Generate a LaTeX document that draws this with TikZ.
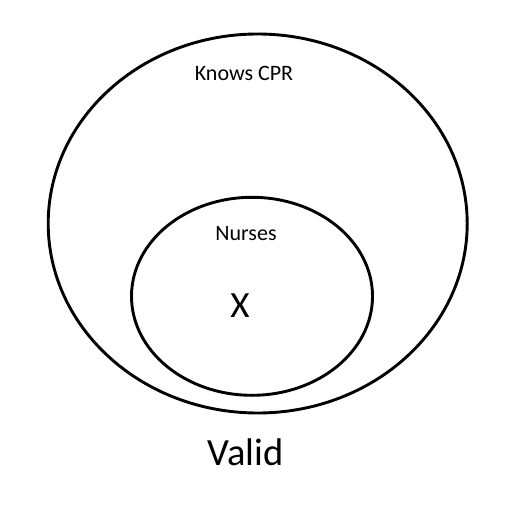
\documentclass[tikz,border=0pt]{standalone}
\usepackage{fontspec}
\setmainfont{Carlito}
\usepackage{tikz}
\usetikzlibrary{shapes.geometric,positioning}
\tikzset{
  setring/.style={ellipse, draw=black, line width=2.9pt, inner sep=0pt},
  setlbl/.style={anchor=base, inner sep=0pt, font=\fontsize{22}{25}\selectfont},
  bigmark/.style={anchor=base, inner sep=0pt, font=\fontsize{37}{40}\selectfont},
  verdict/.style={anchor=base, inner sep=0pt, font=\fontsize{38.5}{42}\selectfont}
}
\begin{document}
\begin{tikzpicture}[x=1pt, y=-1pt]
\useasboundingbox (0,0) rectangle (511,524);

% --- sets
\node[setring, minimum width=419pt, minimum height=379pt] (cpr) at (257.7,223.5) {};
\node[setring, minimum width=241pt, minimum height=198pt] (nurses) at (252,296.3) {};

% --- labels
\node[setlbl] (cprlbl) at (244,81) {Knows CPR};
\node[setlbl] (nurlbl) at (246,240.7) {Nurses};
\node[bigmark] (x) at (240,317.3) {X};
\node[verdict] (valid) at (245.5,465) {Valid};
\end{tikzpicture}
\end{document}
